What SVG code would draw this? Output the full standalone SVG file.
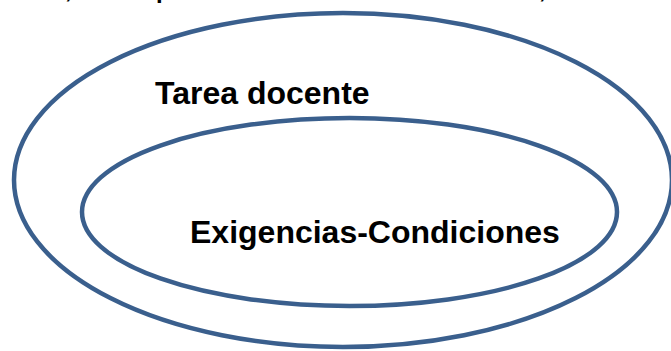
<svg xmlns="http://www.w3.org/2000/svg" width="671" height="351" viewBox="0 0 671 351">
<style>
.ring{fill:none;stroke:#3A5F8D;stroke-width:4.5}
.lbl{font-family:"Liberation Sans",Arial,sans-serif;font-weight:bold;font-size:32px;fill:#000}
.cut{font-family:"Liberation Sans",Arial,sans-serif;font-weight:bold;font-size:24px;fill:#000}
</style>
<rect width="671" height="351" fill="#fff"/>
<text class="cut" x="65" y="-2">,</text>
<text class="cut" x="156" y="-2">p</text>
<text class="cut" x="539" y="-2">,</text>
<g id="outer">
<ellipse class="ring" cx="343" cy="180" rx="329" ry="167"/>
<text class="lbl" x="155" y="104">Tarea docente</text>
</g>
<g id="inner">
<ellipse class="ring" cx="349.5" cy="212" rx="267.5" ry="94"/>
<text class="lbl" x="190" y="243">Exigencias-Condiciones</text>
</g>
<g id="connectors"/>
</svg>
